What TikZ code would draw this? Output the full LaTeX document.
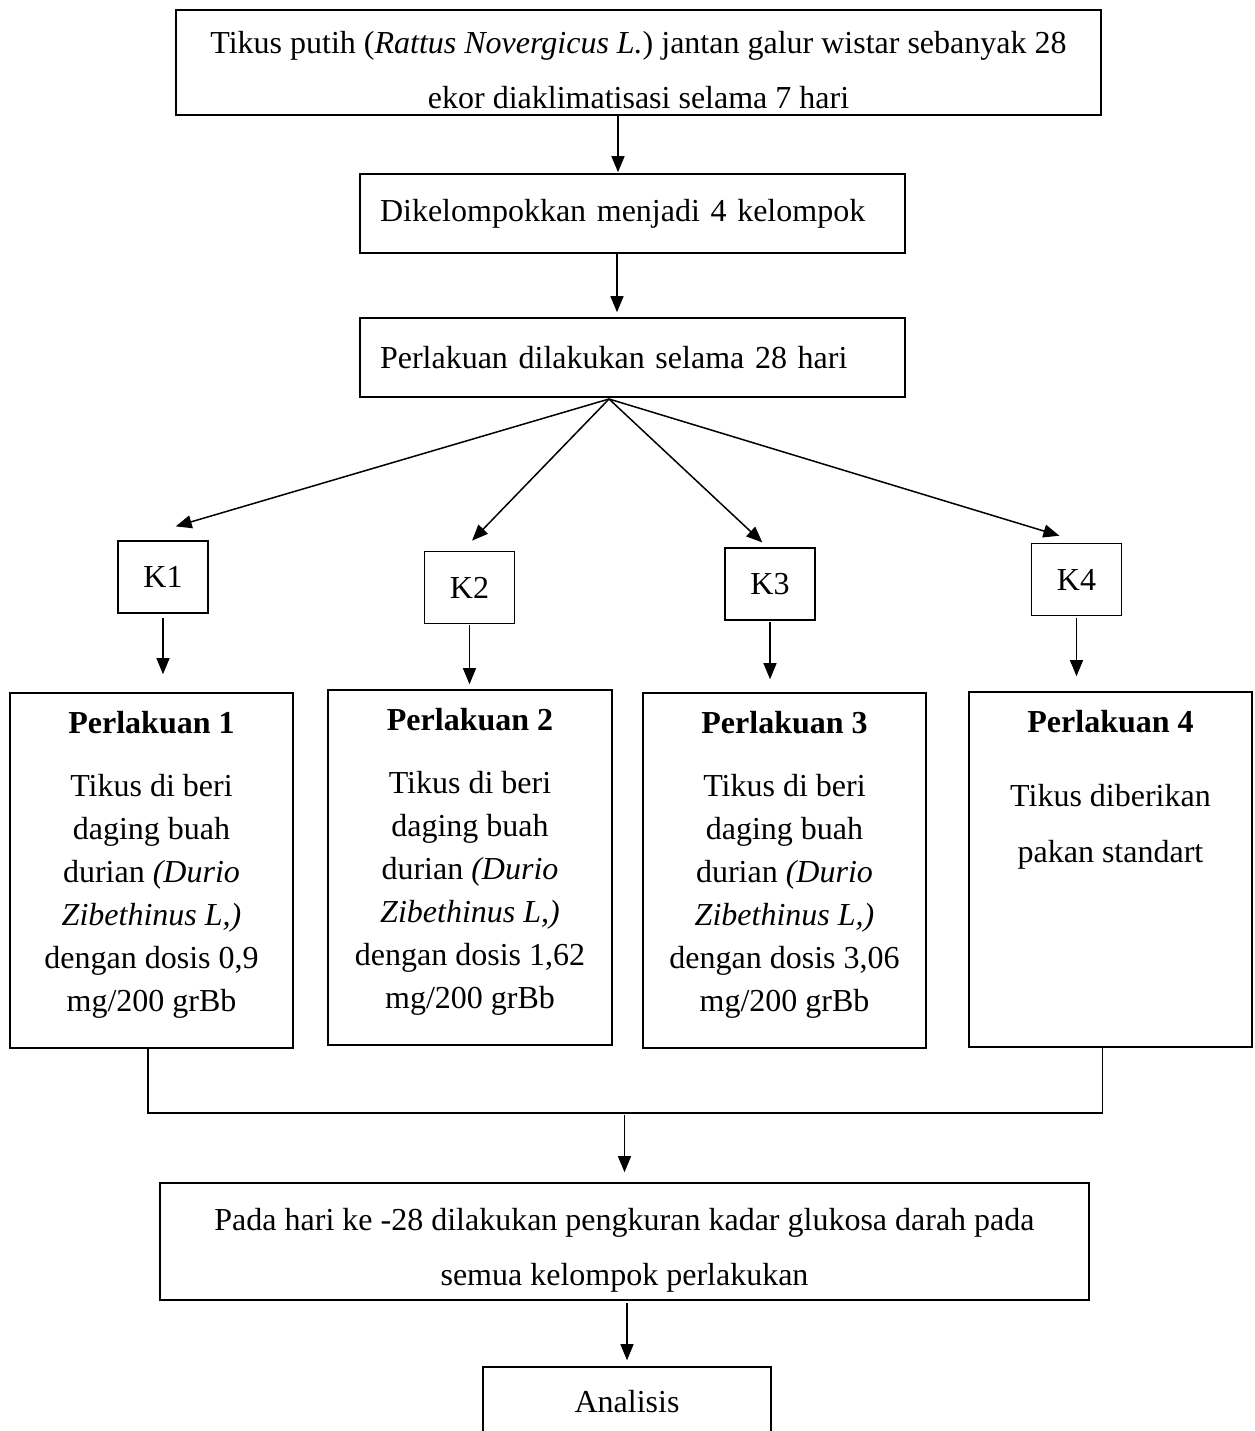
\documentclass[tikz,border=0pt]{standalone}
\usepackage{fontspec}
\setmainfont{Liberation Serif}
\usetikzlibrary{arrows.meta}

\tikzset{
  box/.style={draw, line width=1.6pt, inner sep=0pt, align=center,
    font=\fontsize{32}{55}\selectfont},
  arr/.style={-{Triangle[length=16pt,width=13pt]}, line width=1.2pt},
  kbox/.style={box, minimum width=90pt, minimum height=72pt},
}
\newcommand{\pbody}[4]{\parbox[c][319pt][t]{270pt}{\centering
  \fontsize{32}{#1}\selectfont\textbf{#2}\par\vspace{#3}#4}}

\begin{document}
\begin{tikzpicture}[x=1pt,y=-1pt]
\useasboundingbox (0,0) rectangle (1254,1431);
\clip (0,0) rectangle (1254,1431);

% top of the flow
\node[box, minimum width=925pt, minimum height=105pt] (start) at (638.5,62.5)
  {\rule{0pt}{38pt}Tikus putih (\textit{Rattus Novergicus L.}) jantan galur wistar sebanyak 28\\
   ekor diaklimatisasi selama 7 hari};
\node[box, minimum width=545pt, minimum height=79pt, align=left,
  text width=505pt, inner xsep=20pt] (group) at (632.5,213.5)
  {Dikelompokkan menjadi 4 kelompok};
\node[box, minimum width=545pt, minimum height=79pt, align=left,
  text width=505pt, inner xsep=20pt] (treat) at (632.5,357.5)
  {Perlakuan dilakukan selama 28 hari};

\draw[arr, shorten >=1pt] ([xshift=-20.5pt]start.south) -- ([xshift=-20.5pt]start.south |- group.north);
\draw[arr, shorten >=5pt] ([xshift=-15.5pt]group.south) -- ([xshift=-15.5pt]group.south |- treat.north);

% groups
\node[kbox] (k1) at (163,577) {K1};
\node[kbox] (k2) at (469.5,587.5) {K2};
\node[kbox] (k3) at (770,584) {K3};
\node[kbox] (k4) at (1076.5,579.5) {K4};

\coordinate (fan) at (609,399);
\draw[arr, line width=1.5pt, shorten >=49pt] (fan) -- (k1.133);
\draw[arr, line width=1.5pt, shorten >=14pt] (fan) -- (k2.101);
\draw[arr, line width=1.5pt, shorten >=7pt] (fan) -- (k3.94);
\draw[arr, line width=1.5pt, shorten >=24pt] (fan) -- (k4.81);

% treatments
\node[box, minimum width=283pt, minimum height=355pt] (p1) at (151.5,870.5)
  {\pbody{43}{Perlakuan 1}{20pt}{Tikus di beri\\ daging buah\\
   durian \textit{(Durio}\\ \textit{Zibethinus L,)}\\ dengan dosis 0,9\\ mg/200 grBb}};
\node[box, minimum width=284pt, minimum height=355pt] (p2) at (470,867.5)
  {\pbody{43}{Perlakuan 2}{20pt}{Tikus di beri\\ daging buah\\
   durian \textit{(Durio}\\ \textit{Zibethinus L,)}\\ dengan dosis 1,62\\ mg/200 grBb}};
\node[box, minimum width=283pt, minimum height=355pt] (p3) at (784.5,870.5)
  {\pbody{43}{Perlakuan 3}{20pt}{Tikus di beri\\ daging buah\\
   durian \textit{(Durio}\\ \textit{Zibethinus L,)}\\ dengan dosis 3,06\\ mg/200 grBb}};
\node[box, minimum width=283pt, minimum height=355pt] (p4) at (1110.5,869.5)
  {\pbody{56}{Perlakuan 4}{18pt}{Tikus diberikan\\ pakan standart}};

\draw[arr, shorten <=4pt, shorten >=18pt] (k1.south) -- (k1.south |- p1.north);
\draw[arr, shorten <=1pt, shorten >=5pt] (k2.south) -- (k2.south |- p2.north);
\draw[arr, shorten <=1pt, shorten >=13pt] (k3.south) -- (k3.south |- p3.north);
\draw[arr, shorten <=2pt, shorten >=15pt] (k4.south) -- (k4.south |- p4.north);

% joining the four treatments
\node[box, minimum width=929pt, minimum height=117pt] (measure) at (624.5,1241.5)
  {\rule{0pt}{40pt}Pada hari ke -28 dilakukan pengkuran kadar glukosa darah pada\\
   semua kelompok perlakukan};
\node[box, minimum width=288pt, minimum height=70pt] (result) at (627,1402)
  {Analisis};

\coordinate (endL) at ([xshift=-3.5pt]p1.south);
\coordinate (endR) at ([xshift=-8pt]p4.south);
\draw[line width=1.6pt] (endL) -- ++(0,64) coordinate (joinL)
  -- (joinL -| endR) -- (endR);
\coordinate (join) at (624.5,1113);
\draw[arr, shorten <=2pt, shorten >=10pt] (join) -- (join |- measure.north);
\draw[arr, shorten <=2pt, shorten >=6pt] ([xshift=2.5pt]measure.south) -- ([xshift=2.5pt]measure.south |- result.north);

\end{tikzpicture}
\end{document}
